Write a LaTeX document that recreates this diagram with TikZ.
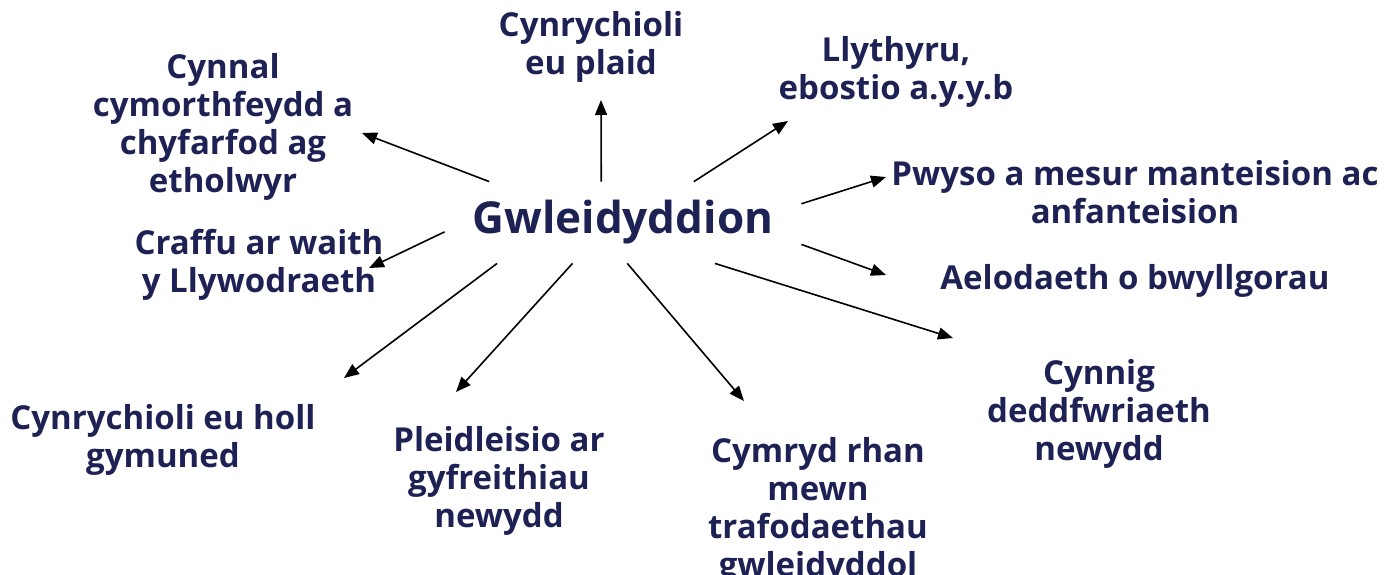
\documentclass[tikz,border=0pt]{standalone}
\usepackage{fontspec}
\setmainfont{Open Sans}
\usetikzlibrary{arrows.meta}
\definecolor{navy}{HTML}{1E2154}
\begin{document}
\begin{tikzpicture}[x=0.5pt,y=-0.5pt]
    \tikzset{role/.style={inner sep=0pt, align=center, text=navy,
        font=\fontsize{16.5}{18.9}\selectfont\bfseries}}
    \tikzset{link/.style={black, line width=0.8pt, -{Triangle[length=7.5pt,width=6pt]}}}
    \useasboundingbox (0,0) rectangle (1399,574);
    % hub
    \node [inner sep=0pt, minimum width=178pt, minimum height=40.5pt, text=navy,
        font=\fontsize{22}{26}\selectfont\bfseries] (hub) at (623,222.5) {Gwleidyddion};
    % roles round the hub
    \node [role] (plaid) at (591,47) {Cynrychioli\\eu plaid};
    \node [role] (cymorth) at (223,127) {Cynnal\\cymorthfeydd a\\chyfarfod ag\\etholwyr};
    \node [role] (llythyru) at (896,72) {Llythyru,\\ebostio a.y.y.b};
    \node [role] (pwyso) at (1135,192) {Pwyso a mesur manteision ac\\anfanteision};
    \node [role] (craffu) at (259,265) {Craffu ar waith\\y Llywodraeth};
    \node [role] (pwyllgor) at (1135,281) {Aelodaeth o bwyllgorau};
    \node [role] (deddf) at (1099,414) {Cynnig\\deddfwriaeth\\newydd};
    \node [role] (cymuned) at (163,440) {Cynrychioli eu holl\\gymuned};
    \node [role] (pleidlais) at (499,481) {Pleidleisio ar\\gyfreithiau\\newydd};
    \node [role] (trafod) at (818,511) {Cymryd rhan\\mewn\\trafodaethau\\gwleidyddol};
    % arrow tips
    \coordinate (t-plaid) at (601,100);
    \coordinate (t-cymorth) at (362,133);
    \coordinate (t-llythyru) at (788,121);
    \coordinate (t-pwyso) at (886,177);
    \coordinate (t-craffu) at (369,268);
    \coordinate (t-pwyllgor) at (886,275);
    \coordinate (t-deddf) at (953,338);
    \coordinate (t-trafod) at (744,401);
    \coordinate (t-pleidlais) at (456,392);
    \coordinate (t-cymuned) at (344,378);
    % arrows
    \draw [link] (hub.118.5) -- (t-plaid);
    \draw [link] (hub.163.4) -- (t-cymorth);
    \draw [link] (hub.30.8) -- (t-llythyru);
    \draw [link] (hub.6.3) -- (t-pwyso);
    \draw [link] (hub.183.7) -- (t-craffu);
    \draw [link] (hub.-7.8) -- (t-pwyllgor);
    \draw [link] (hub.-24.5) -- (t-deddf);
    \draw [link] (hub.-84.4) -- (t-trafod);
    \draw [link] (hub.219) -- (t-pleidlais);
    \draw [link] (hub.198) -- (t-cymuned);
\end{tikzpicture}
\end{document}
